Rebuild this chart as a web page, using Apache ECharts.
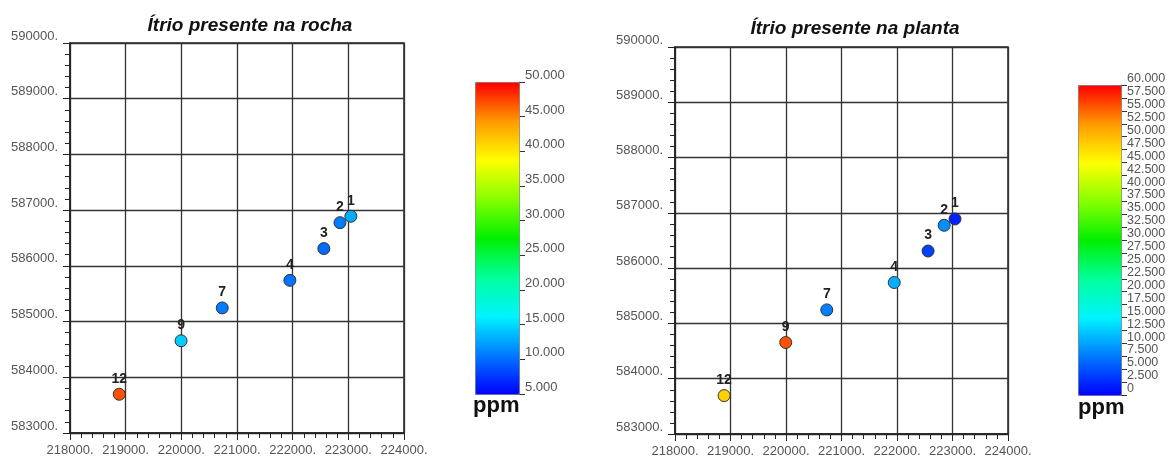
<!DOCTYPE html>
<html>
<head>
<meta charset="utf-8">
<script src="https://cdn.jsdelivr.net/npm/echarts@6/dist/echarts.min.js"></script>
<style>
  html, body { margin: 0; padding: 0; background: #fff; }
  #main { width: 1170px; height: 461px; }
</style>
</head>
<body>
<div id="main"></div>
<script>
// pontos de amostragem (coordenadas UTM)
var pontos = ['1', '2', '3', '4', '7', '9', '12'];
var leste = [223045, 222850, 222560, 221950, 220735, 219995, 218885];
var norte = [586890, 586775, 586310, 585740, 585245, 584655, 583695];
// teor de itrio (ppm)
var rocha = [13.0, 10.8, 10.0, 10.5, 10.8, 14.5, 47.0];
var planta = [2.0, 9.0, 4.0, 10.8, 8.0, 56.0, 48.5];

var cores = ['#0000ff', '#0078ff', '#00f4ff', '#00ff9c', '#00f000', '#86ff00', '#ffff00', '#ff9a00', '#ff0000'];

function pontosSerie(teor){
    var d = [];
    for (var i = 0; i < pontos.length; i++) {
        d.push([leste[i], norte[i], teor[i], pontos[i]]);
    }
    return d;
}

function eixoX(idx){
    return {
        gridIndex: idx, type: 'value', min: 218000, max: 224000, interval: 1000,
        axisLine: { onZero: false, lineStyle: { color: '#222', width: 1.5 } },
        axisTick: { length: 7, lineStyle: { color: '#222' } },
        minorTick: { show: true, splitNumber: 5, length: 5, lineStyle: { color: '#222' } },
        splitLine: { show: true, lineStyle: { color: '#333', width: 1.3 } },
        axisLabel: { formatter: function(v){ return v + '.'; }, color: '#555', fontSize: 13,
                     fontFamily: 'Liberation Sans', margin: 11 }
    };
}
function eixoY(idx){
    return {
        gridIndex: idx, type: 'value', min: 583000, max: 590000, interval: 1000,
        axisLine: { onZero: false, lineStyle: { color: '#222', width: 1.5 } },
        axisTick: { length: 7, lineStyle: { color: '#222' } },
        minorTick: { show: true, splitNumber: 5, length: 5, lineStyle: { color: '#222' } },
        splitLine: { show: true, lineStyle: { color: '#333', width: 1.3 } },
        axisLabel: { formatter: function(v){ return v + '.'; }, color: '#555', fontSize: 13,
                     fontFamily: 'Liberation Sans', margin: 12, verticalAlign: 'bottom', lineHeight: 14 }
    };
}
function eixoCor(idx, mn, mx, passo, tam){
    return {
        gridIndex: idx, type: 'value', min: mn, max: mx, interval: passo, position: 'right',
        axisLine: { show: true, onZero: false, lineStyle: { color: '#777', width: 1 } },
        splitLine: { show: false },
        axisTick: { show: true, length: 6, lineStyle: { color: '#333', width: 1 } },
        axisLabel: { formatter: function(v){ return v === 0 ? '0' : v.toFixed(3); },
                     color: '#555', fontSize: tam, fontFamily: 'Liberation Sans', margin: 6,
                     verticalAlign: 'bottom', lineHeight: tam }
    };
}
function eixoVazio(idx){
    return { gridIndex: idx, type: 'value', show: false, min: 0, max: 1 };
}

var myChart = echarts.init(document.getElementById('main'));
var option = {
    animation: false,
    backgroundColor: '#fff',
    title: [
        { text: 'Ítrio presente na rocha', left: 245, top: 11, textAlign: 'center',
          textStyle: { fontSize: 19, fontStyle: 'italic', fontWeight: 'bold', color: '#111', fontFamily: 'Liberation Sans' } },
        { text: 'Ítrio presente na planta', left: 850, top: 14, textAlign: 'center',
          textStyle: { fontSize: 19, fontStyle: 'italic', fontWeight: 'bold', color: '#111', fontFamily: 'Liberation Sans' } }
    ],
    grid: [
        { left: 70, top: 43, width: 334, height: 390, show: true, borderColor: '#222', borderWidth: 1.5 },
        { left: 675, top: 47, width: 333, height: 387, show: true, borderColor: '#222', borderWidth: 1.5 },
        { left: 475, top: 82, width: 44, height: 312 },
        { left: 1078, top: 85, width: 43, height: 310 }
    ],
    xAxis: [eixoX(0), eixoX(1), eixoVazio(2), eixoVazio(3)],
    yAxis: [eixoY(0), eixoY(1), eixoCor(2, 5, 50, 5, 13), eixoCor(3, 0, 60, 2.5, 12.5)],
    visualMap: [
        { type: 'continuous', min: 5, max: 50, dimension: 2, seriesIndex: 0,
          left: 475, top: 82, itemWidth: 44, itemHeight: 312, padding: 0,
          calculable: false, hoverLink: false, text: null, showLabel: false,
          borderColor: '#777', borderWidth: 1,
          inRange: { color: cores } },
        { type: 'continuous', min: 0, max: 60, dimension: 2, seriesIndex: 1,
          left: 1078, top: 85, itemWidth: 43, itemHeight: 310, padding: 0,
          calculable: false, hoverLink: false, text: null, showLabel: false,
          borderColor: '#777', borderWidth: 1,
          inRange: { color: cores } }
    ],
    graphic: [
        { type: 'text', left: 473, top: 395, style: { text: 'ppm', fontSize: 22, fontWeight: 'bold', fill: '#111', fontFamily: 'Liberation Sans' } },
        { type: 'text', left: 1078, top: 397, style: { text: 'ppm', fontSize: 22, fontWeight: 'bold', fill: '#111', fontFamily: 'Liberation Sans' } }
    ],
    series: [
        { type: 'scatter', xAxisIndex: 0, yAxisIndex: 0, data: pontosSerie(rocha), symbolSize: 12,
          itemStyle: { borderColor: '#333', borderWidth: 1, opacity: 1 },
          label: { show: true, position: 'top', distance: 2, formatter: function(p){ return p.value[3]; },
                   fontSize: 14, fontWeight: 'bold', color: '#222', fontFamily: 'Liberation Sans' } },
        { type: 'scatter', xAxisIndex: 1, yAxisIndex: 1, data: pontosSerie(planta), symbolSize: 12,
          itemStyle: { borderColor: '#333', borderWidth: 1, opacity: 1 },
          label: { show: true, position: 'top', distance: 2, formatter: function(p){ return p.value[3]; },
                   fontSize: 14, fontWeight: 'bold', color: '#222', fontFamily: 'Liberation Sans' } }
    ]
};
myChart.setOption(option);
window.onresize = myChart.resize;
</script>
</body>
</html>
